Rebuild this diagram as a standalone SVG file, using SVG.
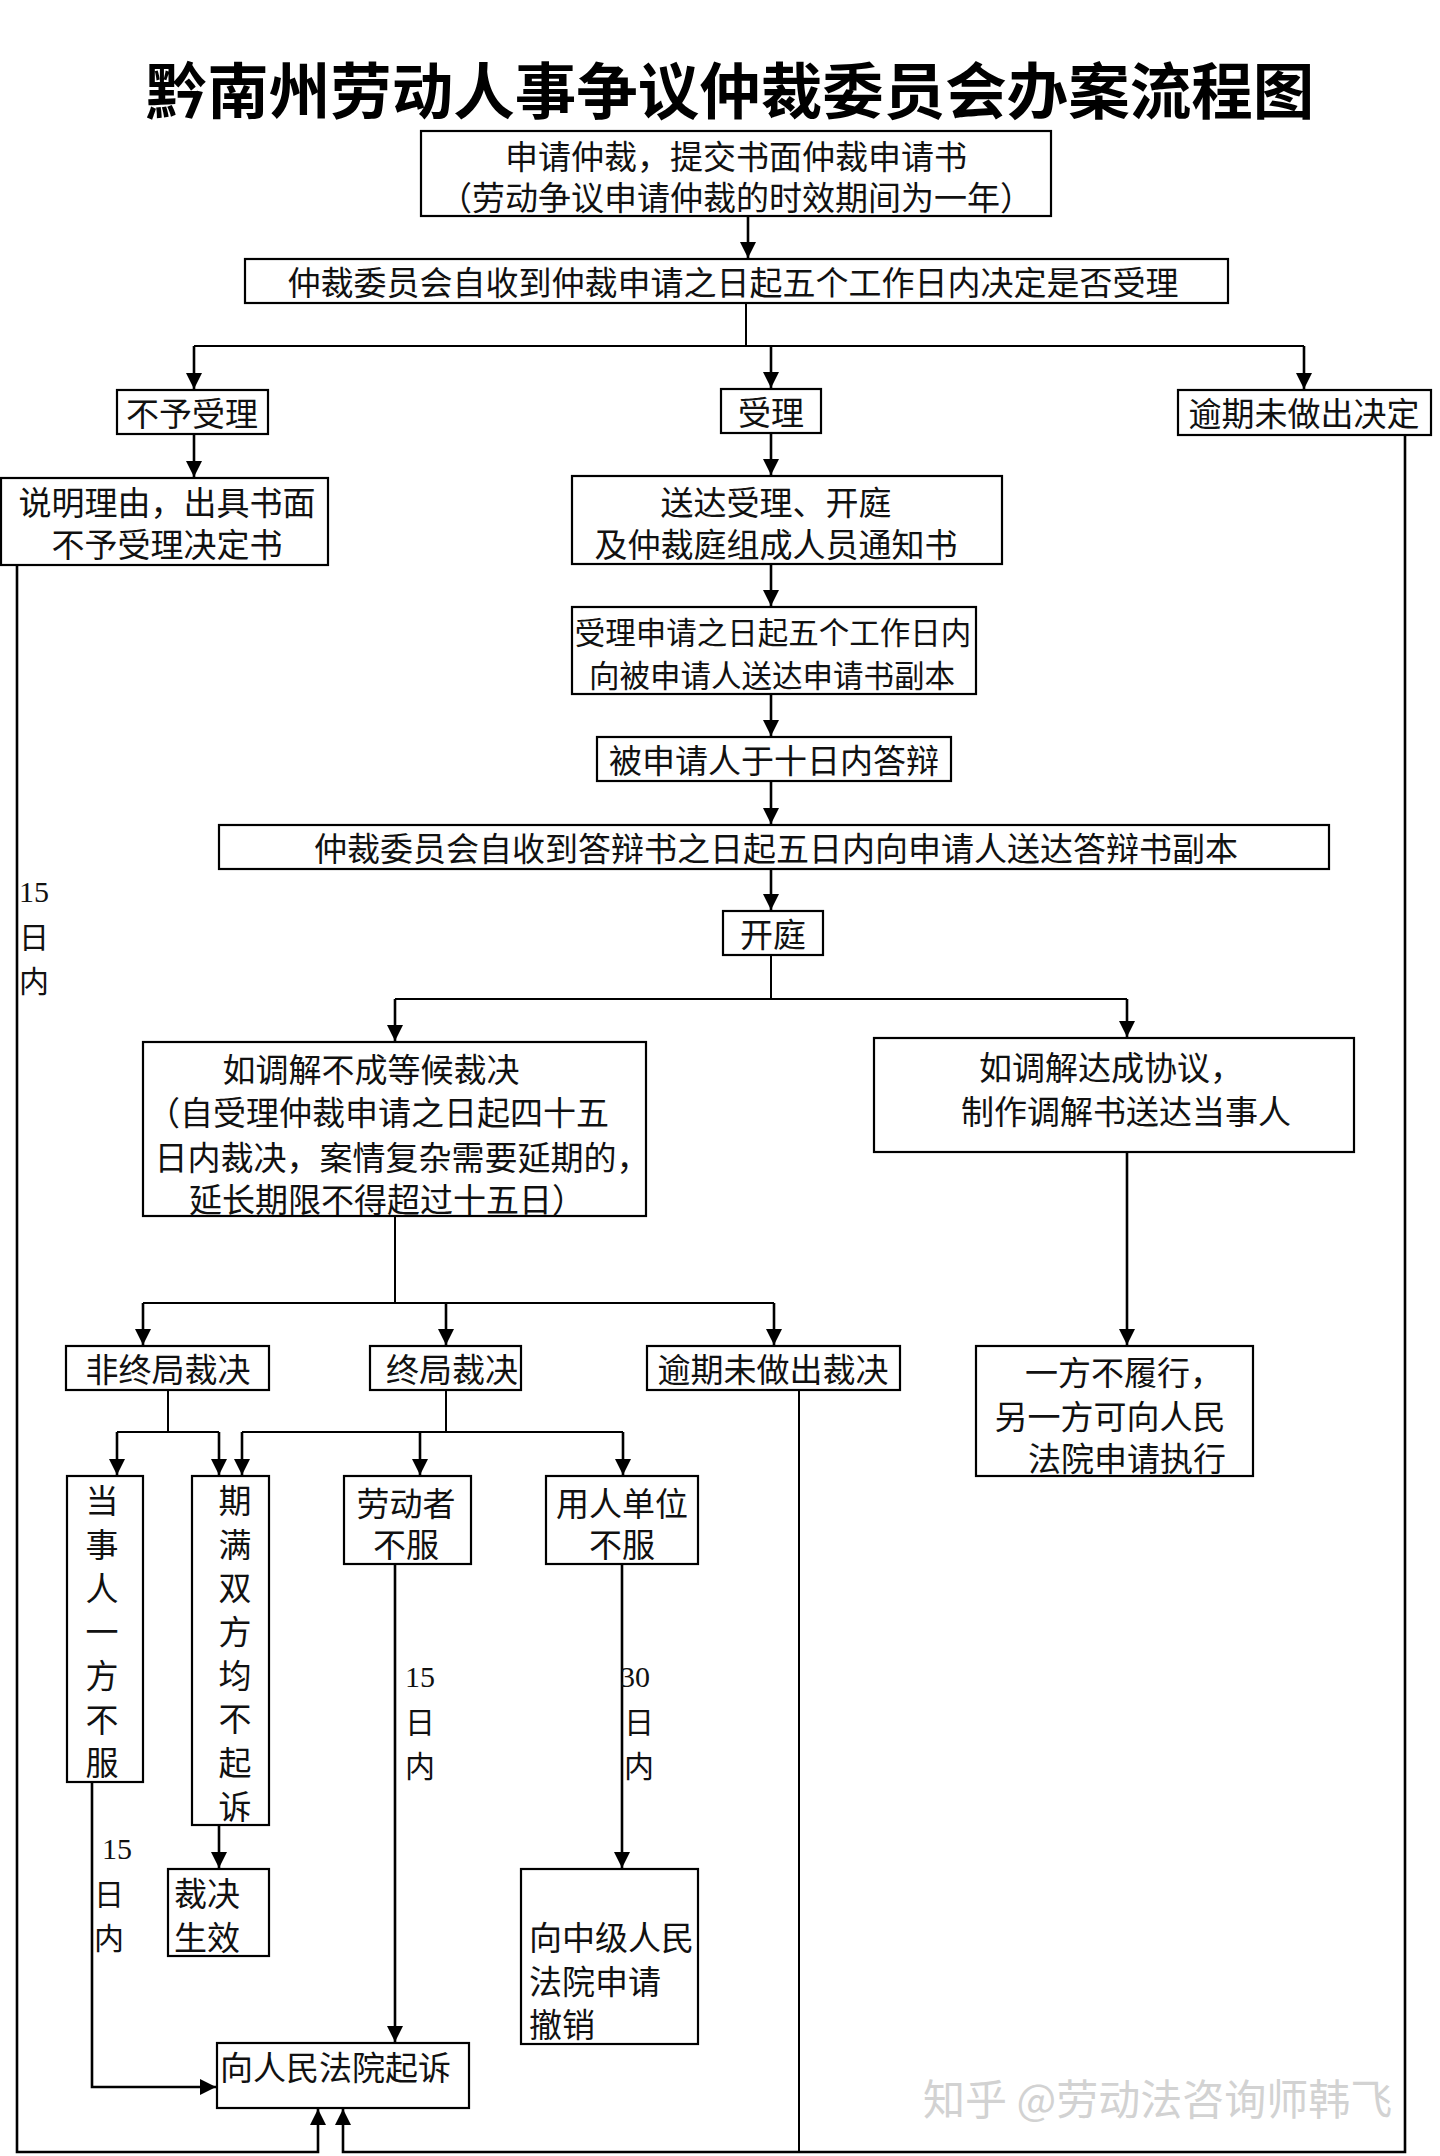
<svg xmlns="http://www.w3.org/2000/svg" width="1440" height="2156" viewBox="0 0 1440 2156">
<defs>
<style>
.box{fill:#fff;stroke:#000;stroke-width:2.2}
.t{font-family:"Noto Sans CJK SC","Noto Sans CJK JP",sans-serif;font-size:33px;fill:#111;text-anchor:middle;dominant-baseline:central}
.s{text-anchor:start}
.n{font-family:"Liberation Serif",serif;font-size:30px;fill:#111;dominant-baseline:central}
.ln{stroke:#000;stroke-width:2;fill:none}
.ar{stroke:#000;stroke-width:2.6;fill:none;marker-end:url(#ah)}
.wm{font-family:"Noto Sans CJK SC",sans-serif;font-size:42px;fill:#d2d2d2;dominant-baseline:central}
</style>
<marker id="ah" markerUnits="userSpaceOnUse" markerWidth="18" markerHeight="18" refX="16" refY="8" orient="auto">
<path d="M0,0 L16,8 L0,16 Z" fill="#000"/>
</marker>
</defs>
<rect width="1440" height="2156" fill="#fff"/>
<text class="wm" x="923" y="2096">知乎 @劳动法咨询师韩飞</text>
<text id="title" x="730" y="87" style="font-family:'Noto Sans CJK SC',sans-serif;font-size:61.5px;font-weight:bold;text-anchor:middle;dominant-baseline:central;fill:#000">黔南州劳动人事争议仲裁委员会办案流程图</text>

<g id="connectors">
<path class="ar" d="M748,216 V258"/>
<path class="ln" d="M746,303 V346 M194,346 H1304"/>
<path class="ar" d="M194,346 V389"/>
<path class="ar" d="M771,346 V388"/>
<path class="ar" d="M1304,346 V389"/>
<path class="ar" d="M194,434 V477"/>
<path class="ar" d="M771,433 V475"/>
<path class="ar" d="M771,564 V606"/>
<path class="ar" d="M771,694 V736"/>
<path class="ar" d="M771,781 V824"/>
<path class="ar" d="M771,869 V910"/>
<path class="ln" d="M771,955 V999 M395,999 H1127"/>
<path class="ar" d="M395,999 V1041"/>
<path class="ar" d="M1127,999 V1037"/>
<path class="ln" d="M395,1216 V1303 M143,1303 H774"/>
<path class="ar" d="M143,1303 V1345"/>
<path class="ar" d="M446,1303 V1345"/>
<path class="ar" d="M774,1303 V1345"/>
<path class="ar" d="M1127,1152 V1345"/>
<path class="ln" d="M168,1390 V1432 M117,1432 H219"/>
<path class="ar" d="M117,1432 V1475"/>
<path class="ar" d="M219,1432 V1475"/>
<path class="ln" d="M446,1390 V1432 M242,1432 H623"/>
<path class="ar" d="M242,1432 V1475"/>
<path class="ar" d="M420,1432 V1475"/>
<path class="ar" d="M623,1432 V1475"/>
<path class="ar" d="M219,1825 V1868"/>
<path class="ar" d="M92,1782 V2087 H216"/>
<path class="ar" d="M395,1564 V2042"/>
<path class="ar" d="M622,1564 V1868"/>
<path class="ln" d="M799,1390 V2152"/>
<path class="ar" d="M17,565 V2152 H318 V2109"/>
<path class="ar" d="M1405,435 V2152 H343 V2109"/>
</g>

<g id="n1"><rect class="box" x="421" y="131" width="630" height="85"/>
<text class="t" x="736" y="155">申请仲裁，提交书面仲裁申请书</text>
<text class="t" x="736" y="196">（劳动争议申请仲裁的时效期间为一年）</text></g>

<g id="n2"><rect class="box" x="245" y="259" width="983" height="44"/>
<text class="t" x="733" y="281">仲裁委员会自收到仲裁申请之日起五个工作日内决定是否受理</text></g>

<g id="n3"><rect class="box" x="117" y="390" width="151" height="44"/>
<text class="t" x="192" y="412">不予受理</text></g>

<g id="n4"><rect class="box" x="721" y="389" width="100" height="44"/>
<text class="t" x="771" y="411">受理</text></g>

<g id="n5"><rect class="box" x="1178" y="390" width="253" height="45"/>
<text class="t" x="1304" y="412">逾期未做出决定</text></g>

<g id="n6"><rect class="box" x="1" y="478" width="327" height="87"/>
<text class="t" x="167" y="501">说明理由，出具书面</text>
<text class="t" x="167" y="543">不予受理决定书</text></g>

<g id="n7"><rect class="box" x="572" y="476" width="430" height="88"/>
<text class="t" x="776" y="501">送达受理、开庭</text>
<text class="t" x="776" y="543">及仲裁庭组成人员通知书</text></g>

<g id="n8"><rect class="box" x="572" y="607" width="404" height="87"/>
<text class="t" x="773" y="631" style="font-size:30.5px">受理申请之日起五个工作日内</text>
<text class="t" x="772" y="674" style="font-size:30.5px">向被申请人送达申请书副本</text></g>

<g id="n9"><rect class="box" x="597" y="737" width="354" height="44"/>
<text class="t" x="774" y="759">被申请人于十日内答辩</text></g>

<g id="n10"><rect class="box" x="219" y="825" width="1110" height="44"/>
<text class="t" x="776" y="847">仲裁委员会自收到答辩书之日起五日内向申请人送达答辩书副本</text></g>

<g id="n11"><rect class="box" x="723" y="911" width="100" height="44"/>
<text class="t" x="773" y="933">开庭</text></g>

<g id="n12"><rect class="box" x="143" y="1042" width="503" height="174"/>
<text class="t" x="371" y="1068">如调解不成等候裁决</text>
<text class="t" x="378" y="1111">（自受理仲裁申请之日起四十五</text>
<text class="t" x="402" y="1156">日内裁决，案情复杂需要延期的，</text>
<text class="t" x="387" y="1198">延长期限不得超过十五日）</text></g>

<g id="n13"><rect class="box" x="874" y="1038" width="480" height="114"/>
<text class="t" x="1111" y="1066">如调解达成协议，</text>
<text class="t" x="1126" y="1110">制作调解书送达当事人</text></g>

<g id="lbl1">
<text class="n" x="19" y="891">15</text>
<text class="t" x="34" y="935" style="font-size:30px">日</text>
<text class="t" x="34" y="979" style="font-size:30px">内</text></g>

<g id="n14"><rect class="box" x="66" y="1346" width="203" height="44"/>
<text class="t" x="168" y="1368">非终局裁决</text></g>

<g id="n15"><rect class="box" x="370" y="1346" width="151" height="44"/>
<text class="t" x="452" y="1368">终局裁决</text></g>

<g id="n16"><rect class="box" x="647" y="1346" width="253" height="44"/>
<text class="t" x="773" y="1368">逾期未做出裁决</text></g>

<g id="n17"><rect class="box" x="976" y="1346" width="277" height="130"/>
<text class="t" x="1124" y="1371">一方不履行，</text>
<text class="t" x="1110" y="1415">另一方可向人民</text>
<text class="t" x="1127" y="1457">法院申请执行</text></g>

<g id="n18"><rect class="box" x="67" y="1476" width="76" height="306"/>
<text class="t" x="102" y="1499">当</text>
<text class="t" x="102" y="1543">事</text>
<text class="t" x="102" y="1587">人</text>
<text class="t" x="102" y="1630">一</text>
<text class="t" x="102" y="1674">方</text>
<text class="t" x="102" y="1718">不</text>
<text class="t" x="102" y="1761">服</text></g>

<g id="n19"><rect class="box" x="192" y="1476" width="77" height="349"/>
<text class="t" x="235" y="1499">期</text>
<text class="t" x="235" y="1543">满</text>
<text class="t" x="235" y="1586">双</text>
<text class="t" x="235" y="1630">方</text>
<text class="t" x="235" y="1674">均</text>
<text class="t" x="235" y="1717">不</text>
<text class="t" x="235" y="1761">起</text>
<text class="t" x="235" y="1805">诉</text></g>

<g id="n20"><rect class="box" x="344" y="1476" width="127" height="88"/>
<text class="t" x="406" y="1502">劳动者</text>
<text class="t" x="406" y="1543">不服</text></g>

<g id="n21"><rect class="box" x="546" y="1476" width="152" height="88"/>
<text class="t" x="622" y="1502">用人单位</text>
<text class="t" x="622" y="1543">不服</text></g>

<g id="n22"><rect class="box" x="168" y="1869" width="101" height="87"/>
<text class="t s" x="174" y="1892">裁决</text>
<text class="t s" x="174" y="1936">生效</text></g>

<g id="lbl2">
<text class="n" x="102" y="1848">15</text>
<text class="t" x="109" y="1892" style="font-size:30px">日</text>
<text class="t" x="109" y="1936" style="font-size:30px">内</text></g>

<g id="lbl3">
<text class="n" x="405" y="1676">15</text>
<text class="t" x="420" y="1720" style="font-size:30px">日</text>
<text class="t" x="420" y="1764" style="font-size:30px">内</text></g>

<g id="lbl4">
<text class="n" x="620" y="1676">30</text>
<text class="t" x="639" y="1720" style="font-size:30px">日</text>
<text class="t" x="639" y="1764" style="font-size:30px">内</text></g>

<g id="n23"><rect class="box" x="521" y="1869" width="177" height="175"/>
<text class="t s" x="529" y="1936">向中级人民</text>
<text class="t s" x="529" y="1980">法院申请</text>
<text class="t s" x="529" y="2023">撤销</text></g>

<g id="n24"><rect class="box" x="217" y="2043" width="252" height="65"/>
<text class="t s" x="220" y="2066">向人民法院起诉</text></g>
</svg>
